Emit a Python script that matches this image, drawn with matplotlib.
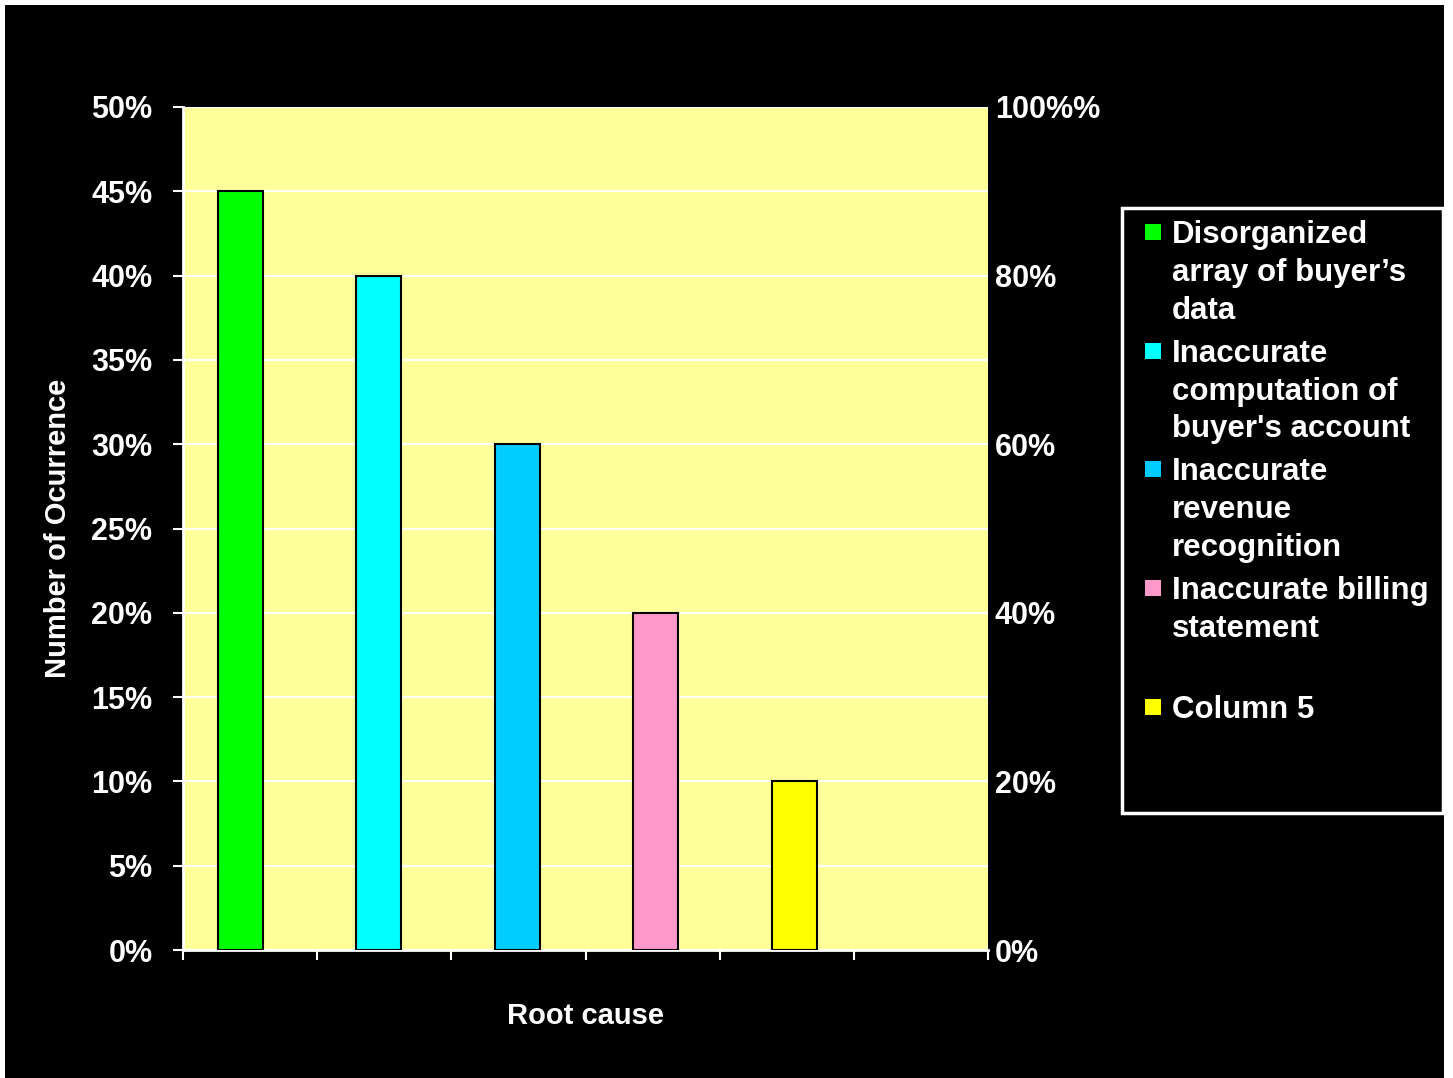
import matplotlib
matplotlib.use("Agg")
import matplotlib.pyplot as plt
from matplotlib.patches import Rectangle
import numpy as np

# ---- data ----
categories = [
    "Disorganized\narray of buyer\u2019s\ndata",
    "Inaccurate\ncomputation of\nbuyer's account",
    "Inaccurate\nrevenue\nrecognition",
    "Inaccurate billing\nstatement\n",
    "Column 5",
]
values = [0.45, 0.40, 0.30, 0.20, 0.10]
colors = ["#00FF00", "#00FFFF", "#00CCFF", "#FF99CC", "#FFFF00"]
left_ticks = [0, 0.05, 0.10, 0.15, 0.20, 0.25, 0.30, 0.35, 0.40, 0.45, 0.50]
left_labels = ["0%", "5%", "10%", "15%", "20%", "25%", "30%", "35%", "40%", "45%", "50%"]
right_ticks = [0, 0.2, 0.4, 0.6, 0.8, 1.0]
right_labels = ["0%", "20%", "40%", "60%", "80%", "100%%"]
xlabel = "Root cause"
ylabel = "Number of Ocurrence"

plt.rcParams['font.family'] = ['Liberation Sans', 'DejaVu Sans']
plt.rcParams['font.weight'] = 'bold'

W, H = 1453, 1078
fig = plt.figure(figsize=(W / 100, H / 100), dpi=100)
fig.patch.set_facecolor("white")
fig.patches.append(Rectangle((5 / W, 0), 1439 / W, 1073 / H, transform=fig.transFigure,
                             facecolor="black", edgecolor="none", zorder=-10))

ax = fig.add_axes([183 / W, 1 - 950 / H, 805 / W, 843 / H])
ax.set_facecolor("#FFFF99")

x = np.arange(len(values))
ax.bar(x, values, width=45 / 138.5, color=colors, edgecolor="black", linewidth=1.5, zorder=3)

x0 = -57 / 138.5
x1 = x0 + 805 / 138.5
ax.set_xlim(x0, x1)
ax.set_xticks(np.linspace(x0, x1, 7))
ax.set_xticklabels([])
ax.set_ylim(0, 0.5)
ax.set_yticks(left_ticks)
ax.set_yticklabels(left_labels)
ax.grid(axis="y", color="white", linewidth=1.5, zorder=0)
ax.set_axisbelow(True)

for s in ["top", "right"]:
    ax.spines[s].set_visible(False)
for s in ["left", "bottom"]:
    ax.spines[s].set_color("white")
    ax.spines[s].set_linewidth(2)

ax.tick_params(axis="y", colors="white", labelsize=22, length=7, width=1.5, pad=15)
ax.tick_params(axis="x", colors="white", length=7, width=1.5, direction="out")

ax.set_xlabel(xlabel, color="white", fontsize=21, fontweight="bold", labelpad=27)
ax.set_ylabel(ylabel, color="white", fontsize=21, fontweight="bold", labelpad=14)

ax2 = ax.twinx()
ax2.set_ylim(0, 1)
ax2.set_yticks(right_ticks)
ax2.set_yticklabels(right_labels)
ax2.tick_params(axis="y", colors="white", labelsize=22, length=0, pad=5)
for s in ax2.spines.values():
    s.set_visible(False)

# ---- legend (manual, marker aligned with first line) ----
fig.patches.append(Rectangle((1122 / W, 1 - 813 / H), (1443 - 1122) / W, (813 - 208) / H,
                             transform=fig.transFigure, facecolor="black",
                             edgecolor="white", linewidth=2.5, zorder=5))
entry_top = 222
entry_step = 118.7
for i, (lab, c) in enumerate(zip(categories, colors)):
    ytop = entry_top + i * entry_step
    fig.patches.append(Rectangle((1145 / W, 1 - (ytop + 18) / H), 16 / W, 16 / H,
                                 transform=fig.transFigure, facecolor=c,
                                 edgecolor="none", zorder=6))
    fig.text(1172 / W, 1 - (ytop - 2) / H, lab, color="white", fontsize=22.5,
             fontweight="bold", va="top", ha="left", linespacing=1.34, zorder=7)

fig.savefig("out.png", dpi=100, facecolor=fig.get_facecolor())
